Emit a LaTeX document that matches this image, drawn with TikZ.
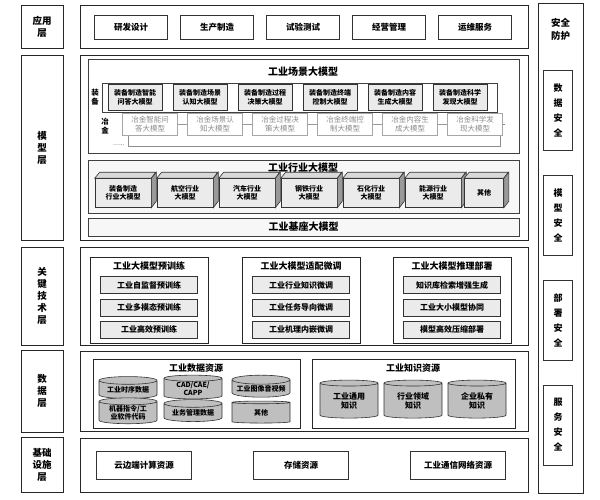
\documentclass[tikz,border=0pt]{standalone}
\usepackage{fontspec}
\setmainfont{Noto Sans CJK SC}
\usetikzlibrary{shapes.geometric}
\tikzset{
  layer/.style={draw=black!85,line width=0.9pt,fill=white},
  tag/.style={draw=black!85,line width=0.9pt,align=center,font=\bfseries\fontsize{9.5}{12}\selectfont,inner sep=0pt},
  item/.style={draw=black!80,line width=0.6pt,align=center,font=\bfseries\fontsize{8}{9.5}\selectfont,inner sep=1pt,fill=white},
  gitem/.style={draw=black!35,line width=0.5pt,align=center,font=\fontsize{7.5}{9}\selectfont,text=black!45,inner sep=1pt,fill=white},
  ttl/.style={font=\bfseries\fontsize{9}{11}\selectfont,inner sep=0pt},
  gbox/.style={draw=black!75,line width=0.6pt,fill=black!3},
  tube/.style={cylinder,shape border rotate=90,aspect=0.18,draw=black!80,line width=0.6pt,fill=black!25,align=center,font=\bfseries\fontsize{7}{8}\selectfont,inner sep=0.5pt}
}
\begin{document}
\begin{tikzpicture}[x=1pt,y=-1pt]
\useasboundingbox[fill=white] (0,0) rectangle (600,499);
% left labels
\node[tag,minimum width=42,minimum height=43] (lApp) at (42,26.5) {应用\\层};
\node[tag,minimum width=42,minimum height=185] (lMod) at (42,147.5) {模\\型\\层};
\node[tag,minimum width=42,minimum height=98] (lKey) at (42,296) {关\\键\\技\\术\\层};
\node[tag,minimum width=42,minimum height=82] (lDat) at (42,391) {数\\据\\层};
\node[tag,minimum width=42,minimum height=55] (lInf) at (42,464.5) {基础\\设施\\层};
% right column
\node[tag,minimum width=45,minimum height=490] (sec) at (560.5,248) {};
\node[ttl,align=center,font=\bfseries\fontsize{9.5}{13}\selectfont] (secT) at (560.5,29) {安全\\防护};
\foreach \n/\t/\y in {s1/数\\据\\安\\全/110,s2/模\\型\\安\\全/215,s3/部\\署\\安\\全/320,s4/服\\务\\安\\全/425}
  \node[item,minimum width=29,minimum height=80,font=\bfseries\fontsize{9}{15}\selectfont] (\n) at (558,\y) {\t};
% application layer
\draw[layer] (80,5) rectangle (528,48);
\foreach \t [count=\i] in {研发设计,生产制造,试验测试,经营管理,运维服务}
  \node[item,minimum width=73,minimum height=24,font=\bfseries\fontsize{8.5}{10}\selectfont] (app\i) at ({45+86*\i},27) {\t};
% model layer
\draw[layer] (80,55) rectangle (528,240);
\draw[gbox,fill=white] (88,59) rectangle (519,153);
\node[ttl,font=\bfseries\fontsize{10}{12}\selectfont] (sceneT) at (303,72) {工业场景大模型};
\draw[black!45,line width=0.5pt] (128,124) -- (128,146) -- (500,146) -- (500,124) -- (505,124);
\foreach \t [count=\i] in {冶金智能问\\答大模型,冶金场景认\\知大模型,冶金过程决\\策大模型,冶金终端控\\制大模型,冶金内容生\\成大模型,冶金科学发\\现大模型}
  \node[gitem,minimum width=55,minimum height=22] (y\i) at ({85+65*\i},124) {\t};
\foreach \i [count=\j from 2] in {1,...,5} \draw[black!40] (y\i) -- (y\j);
\draw[gbox,fill=white,line width=0.7pt] (102,83) rectangle (497,112);
\foreach \t [count=\i] in {装备制造智能\\问答大模型,装备制造场景\\认知大模型,装备制造过程\\决策大模型,装备制造终端\\控制大模型,装备制造内容\\生成大模型,装备制造科学\\发现大模型}
  \node[item,minimum width=54,minimum height=26,fill=black!8,font=\bfseries\fontsize{7}{8.5}\selectfont] (z\i) at ({70+65*\i},97.5) {\t};
\node[ttl,align=center,font=\bfseries\fontsize{7.5}{9}\selectfont] (zbT) at (95,97) {装\\备};
\node[ttl,align=center,font=\bfseries\fontsize{7.5}{9}\selectfont] (yjT) at (105,126) {冶\\金};
\node[font=\fontsize{7}{8}\selectfont,text=black!60,inner sep=0pt] (dots) at (119,145) {......};
% industry models
\draw[gbox] (88,160) rectangle (519,213);
\node[ttl,font=\bfseries\fontsize{10}{12}\selectfont] (indT) at (303,168) {工业行业大模型};
\foreach \t/\x/\w in {装备制造\\行业大模型/123/56,航空行业\\大模型/185/56,汽车行业\\大模型/247/56,钢铁行业\\大模型/309/56,石化行业\\大模型/371/56,能源行业\\大模型/433/56,其他/484/39}{
  \node[item,minimum width=\w,minimum height=29,fill=black!8,font=\bfseries\fontsize{7}{8.5}\selectfont] (c\x) at (\x,193) {\t};
  \draw[black!80,line width=0.6pt,fill=black!15] (c\x.north west) -- ++(5,-6) -- ++(\w,0) -- (c\x.north east) -- cycle;
  \draw[black!80,line width=0.6pt,fill=black!40] (c\x.north east) -- ++(5,-6) -- ++(0,29) -- (c\x.south east) -- cycle;
}
\node[gbox,minimum width=431,minimum height=18,inner sep=0pt,ttl,font=\bfseries\fontsize{10}{12}\selectfont] (baseM) at (303.5,227) {工业基座大模型};
% key technology layer
\draw[layer] (80,247) rectangle (528,345);
\foreach \n/\x/\t in {pt/149/工业大模型预训练,ft/301/工业大模型适配微调,inf/452/工业大模型推理部署}{
  \node[draw=black!85,line width=0.7pt,minimum width=118,minimum height=86] (\n) at (\x,300) {};
  \node[ttl,font=\bfseries\fontsize{9}{11}\selectfont] (\n T) at (\x,266.5) {\t};
}
\foreach \n/\x/\a/\b/\c in {pt/149/工业自监督预训练/工业多模态预训练/工业高效预训练,ft/301/工业行业知识微调/工业任务导向微调/工业机理内嵌微调,inf/452/知识库检索增强生成/工业大小模型协同/模型高效压缩部署}{
  \node[item,fill=black!8,minimum width=97,minimum height=17] (\n1) at (\x,285) {\a};
  \node[item,fill=black!8,minimum width=97,minimum height=17] (\n2) at (\x,307.5) {\b};
  \node[item,fill=black!8,minimum width=97,minimum height=17] (\n3) at (\x,329.5) {\c};
}
% data layer
\draw[layer] (80,351) rectangle (528,431);
\draw[line width=0.7pt,draw=black!85] (93,359) rectangle (300,428);
\node[ttl] (dataT) at (196,368) {工业数据资源};
\foreach \t/\x/\y in {{工业时序数据}/128/390,{CAD/CAE/\\CAPP}/193/389,{工业图像音视频}/261/389,{机器指令/工\\业软件代码}/128/413,{业务管理数据}/193/413,{其他}/261/413}
  \node[tube,minimum width=58,minimum height=22] at (\x,\y) {\t};
\draw[line width=0.7pt,draw=black!85] (312,359) rectangle (515,428);
\node[ttl] (knowT) at (413,368) {工业知识资源};
\foreach \t/\x in {工业通用\\知识/349,行业领域\\知识/413,企业私有\\知识/477}
  \node[tube,minimum width=58,minimum height=38,font=\bfseries\fontsize{8}{9.5}\selectfont] at (\x,401) {\t};
% infrastructure layer
\draw[layer] (80,438) rectangle (528,492);
\foreach \t/\x in {云边端计算资源/144,存储资源/301,工业通信网络资源/458}
  \node[item,minimum width=95,minimum height=28,font=\bfseries\fontsize{8.5}{10}\selectfont] at (\x,465) {\t};
\end{tikzpicture}
\end{document}
